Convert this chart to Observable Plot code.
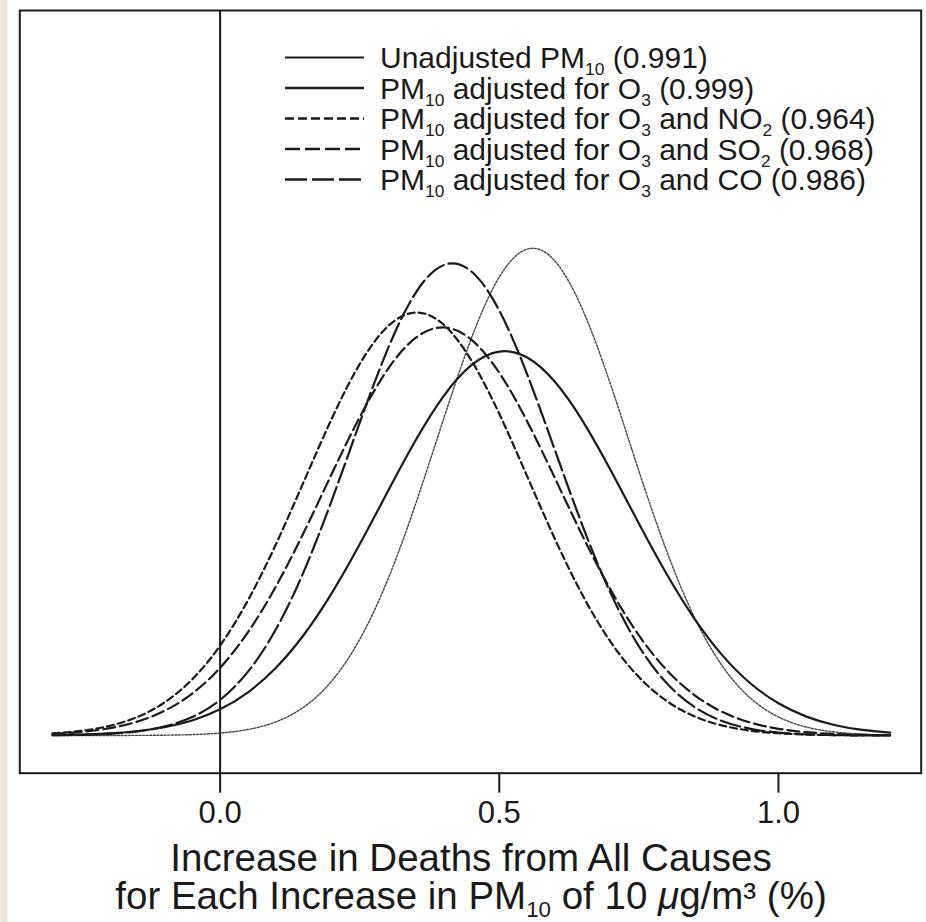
<!DOCTYPE html>
<html><head><meta charset="utf-8">
<script src="https://cdn.jsdelivr.net/npm/d3@7"></script>
<script src="https://cdn.jsdelivr.net/npm/@observablehq/plot@0.6"></script>
<style>body{margin:0;background:#fff}</style>
</head><body><div id="chart"></div>
<script>
const xs = [-0.30,-0.25,-0.20,-0.15,-0.10,-0.05,0.00,0.05,0.10,0.15,0.20,0.25,0.30,0.35,0.40,0.45,0.50,0.55,0.60,0.65,0.70,0.75,0.80,0.85,0.90,0.95,1.00,1.05,1.10,1.15,1.20];
// estimated density heights for each model
const unadjusted = [0.0000,0.0000,0.0001,0.0005,0.0015,0.0043,0.0116,0.0286,0.0649,0.1355,0.2596,0.4573,0.7400,1.101,1.505,1.891,2.183,2.316,2.258,2.023,1.666,1.260,0.8765,0.5600,0.3288,0.1774,0.0880,0.0401,0.0168,0.0065,0.0023];
const adjO3 = [0.0021,0.0047,0.0100,0.0203,0.0392,0.0717,0.1246,0.2057,0.3223,0.4797,0.6780,0.9102,1.1604,1.4047,1.6150,1.7632,1.8281,1.800,1.683,1.4946,1.2603,1.0094,0.7677,0.5543,0.3803,0.2477,0.1532,0.0900,0.0502,0.0266,0.0134];
const adjNO2 = [0.0099,0.0217,0.0447,0.0863,0.1566,0.2672,0.4280,0.6441,0.9105,1.2094,1.5089,1.7685,1.9471,2.014,1.9568,1.7862,1.5316,1.2338,0.9337,0.6638,0.4433,0.2781,0.1639,0.0907,0.0472,0.0230,0.0106,0.0046,0.0019,0.0007,0.0003];
const adjSO2 = [0.0078,0.0166,0.0337,0.0645,0.1168,0.1996,0.3225,0.4922,0.7100,0.9674,1.2459,1.5157,1.7425,1.8929,1.943,1.8845,1.7269,1.4953,1.2233,0.9458,0.6909,0.4768,0.3111,0.1916,0.1115,0.0614,0.0319,0.0157,0.0073,0.0032,0.0013];
const adjCO = [0.0011,0.0030,0.0078,0.0188,0.0422,0.0878,0.1697,0.3042,0.5058,0.7812,1.1195,1.4889,1.8386,2.1066,2.2395,2.2096,2.0232,1.7195,1.3560,0.9925,0.6742,0.4251,0.2486,0.1351,0.0681,0.0318,0.0138,0.0056,0.0021,0.0007,0.0002];

const tickValues = [0, 0.5, 1.0];
const legendLabels = [
  "Unadjusted PM_{10} (0.991)",
  "PM_{10} adjusted for O_{3} (0.999)",
  "PM_{10} adjusted for O_{3} and NO_{2} (0.964)",
  "PM_{10} adjusted for O_{3} and SO_{2} (0.968)",
  "PM_{10} adjusted for O_{3} and CO (0.986)"
];
const titleLines = [
  "Increase in Deaths from All Causes",
  "for Each Increase in PM_{10} of 10 μg/m³ (%)"
];

const seriesValues = [unadjusted, adjO3, adjNO2, adjSO2, adjCO];
const styles = [
  {stroke:"#444", strokeWidth:1.4, strokeDasharray:"2,1.6", legendDash:null, legendWidth:2.0},
  {stroke:"#1a1a1a", strokeWidth:2.2, strokeDasharray:null, legendDash:null, legendWidth:2.4},
  {stroke:"#1a1a1a", strokeWidth:2.2, strokeDasharray:"7,4", legendDash:"9,4", legendWidth:2.4},
  {stroke:"#1a1a1a", strokeWidth:2.2, strokeDasharray:"12,5", legendDash:"15,5", legendWidth:2.4},
  {stroke:"#1a1a1a", strokeWidth:2.2, strokeDasharray:"20,5", legendDash:"22,5", legendWidth:2.4}
];

const tables = seriesValues.map(arr => xs.map((x, i) => ({x, y: arr[i]})));

const FONT = "'Liberation Sans', Arial, Helvetica, sans-serif";

const chart = Plot.plot({
  width: 926, height: 922,
  marginTop: 10, marginBottom: 149.3, marginLeft: 19.3, marginRight: 5.3,
  x: {domain: [-0.3587, 1.2556]},
  y: {domain: [-0.1795, 3.452], axis: null},
  style: {fontFamily: FONT, fontSize: "31px", color: "#1a1a1a", background: "white", overflow: "visible"},
  marks: [
    Plot.frame({stroke: "#1a1a1a", strokeWidth: 2}),
    Plot.ruleX([0], {stroke: "#1a1a1a", strokeWidth: 2}),
    ...tables.map((t, i) => Plot.line(t, {
      x: "x", y: "y", curve: "natural",
      stroke: styles[i].stroke, strokeWidth: styles[i].strokeWidth,
      strokeDasharray: styles[i].strokeDasharray || undefined
    })),
    Plot.axisX(tickValues, {tickSize: 20, tickPadding: 8, tickFormat: d => d.toFixed(1), label: null, strokeWidth: 2, fontSize: 31})
  ]
});

document.getElementById("chart").appendChild(chart);
const svg = d3.select(chart);

// light strip at the left edge
svg.insert("rect", ":first-child").attr("x", 0).attr("y", 0).attr("width", 7.5).attr("height", 922).attr("fill", "#e8e6df");

// text with subscripts written as _{..}; shifts in px
function richText(sel, str, size, subScale, shiftRatio) {
  const subShift = size * shiftRatio;
  let cur = 0;
  const parts = str.split(/(_\{[^}]*\}|μ)/);
  parts.forEach(p => {
    if (!p) return;
    const m = p.match(/^_\{([^}]*)\}$/);
    const target = m ? subShift : 0;
    const t = sel.append("tspan").attr("dy", target - cur);
    cur = target;
    if (m) {
      t.attr("font-size", size * subScale).text(m[1]);
    } else {
      t.attr("font-size", size).text(p);
      if (p === "μ") t.attr("font-style", "italic");
    }
  });
}

// legend
const lg = svg.append("g").attr("font-family", FONT).attr("fill", "#1a1a1a").attr("text-anchor", "start");
legendLabels.forEach((lab, i) => {
  const y = 57.5 + i * 30.5;
  lg.append("line").attr("x1", 285).attr("x2", 364).attr("y1", y).attr("y2", y)
    .attr("stroke", "#1a1a1a").attr("stroke-width", styles[i].legendWidth)
    .attr("stroke-dasharray", styles[i].legendDash);
  const t = lg.append("text").attr("x", 380).attr("y", y + 10.5).attr("font-size", 30);
  richText(t, lab, 30, 0.58, 0.24);
});

// axis title
const tg = svg.append("g").attr("font-family", FONT).attr("fill", "#1a1a1a").attr("text-anchor", "middle");
titleLines.forEach((line, i) => {
  const t = tg.append("text").attr("x", 471).attr("y", 871 + i * 38).attr("font-size", 38.5);
  richText(t, line, 38.5, 0.58, 0.2);
});
</script></body></html>
